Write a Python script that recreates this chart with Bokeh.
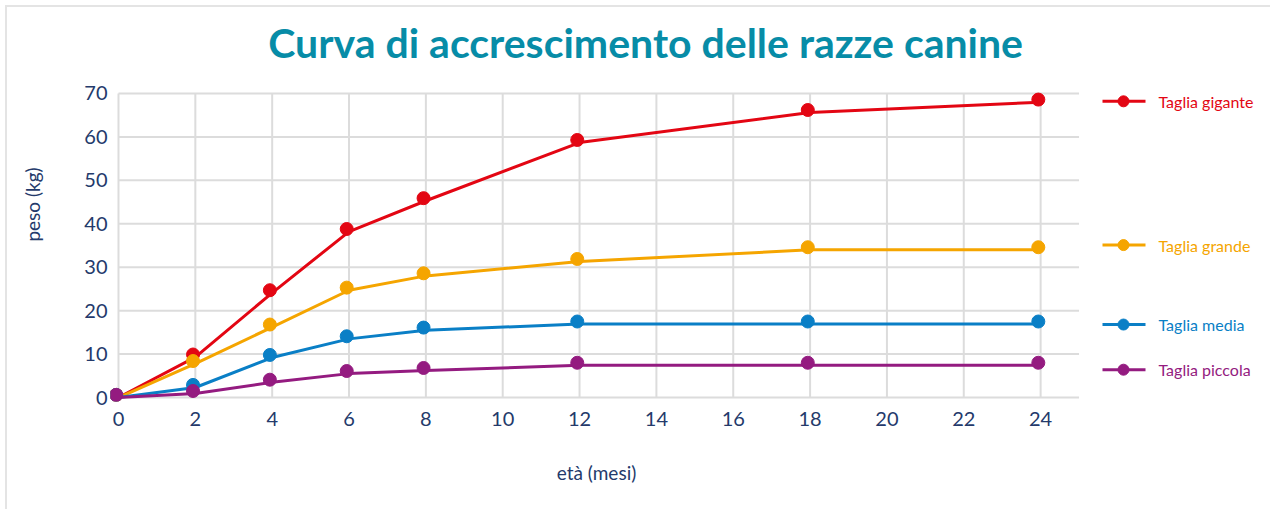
from bokeh.plotting import figure
from bokeh.models import ColumnDataSource, Range1d, FixedTicker
from bokeh.layouts import row
from bokeh.transform import dodge
from bokeh.core.properties import value
from bokeh.embed import file_html
from bokeh.resources import INLINE

# ---- data ----
months = [0, 2, 4, 6, 8, 12, 18, 24]
gigante = [0.0, 9.3, 24.1, 38.2, 45.3, 58.7, 65.6, 68.0]
grande = [0.0, 7.8, 16.2, 24.7, 28.0, 31.3, 34.0, 34.0]
media = [0.0, 2.3, 9.2, 13.5, 15.5, 16.9, 16.9, 16.9]
piccola = [0.0, 0.9, 3.5, 5.5, 6.2, 7.4, 7.4, 7.4]
series_names = ["Taglia gigante", "Taglia grande", "Taglia media", "Taglia piccola"]
x_ticks = [0, 2, 4, 6, 8, 10, 12, 14, 16, 18, 20, 22, 24]
y_ticks = [0, 10, 20, 30, 40, 50, 60, 70]
title_text = "Curva di accrescimento delle razze canine"
x_label = "età (mesi)"
y_label = "peso (kg)"

# ---- styles / layout ----
colors = ["#e30613", "#f5a500", "#0a7fc6", "#941b80"]
legend_y = [68.2, 35.1, 16.8, 6.4]
title_pos = (13.72, 81.8)      # placement of the title inside the frame
grid_color = "#dcdcdc"
tick_color = "#243a6b"
title_color = "#078ca7"
FONT = "Lato"
SHIFT = 7          # outer box margin + border
H = 502
BOTTOM = 108

yr = Range1d(-0.92, 89.80)
p = figure(width=1082 - SHIFT, height=H, output_backend="svg", toolbar_location=None,
           x_range=Range1d(-0.208, 25.09), y_range=yr,
           min_border_left=110 - SHIFT, min_border_right=0, min_border_top=0,
           min_border_bottom=BOTTOM)
p.outline_line_color = None
p.border_fill_color = "white"
p.xgrid.visible = False
p.ygrid.visible = False

# title drawn inside the (extended) frame
p.text(x=[title_pos[0]], y=[title_pos[1]], text=[title_text],
       text_font=value(FONT), text_font_size="41px", text_font_style="bold",
       text_color=title_color, text_align="center", text_baseline="alphabetic")

# manual grid limited to the data area
x_max_grid = 25
p.segment(x0=x_ticks, x1=x_ticks, y0=[min(y_ticks)] * len(x_ticks),
          y1=[max(y_ticks)] * len(x_ticks), line_color=grid_color, line_width=2)
p.segment(x0=[0] * len(y_ticks), x1=[x_max_grid] * len(y_ticks), y0=y_ticks,
          y1=y_ticks, line_color=grid_color, line_width=2)

# axes
for ax in (p.xaxis[0], p.yaxis[0]):
    ax.axis_line_color = None
    ax.major_tick_line_color = None
    ax.minor_tick_line_color = None
    ax.major_tick_out = 0
    ax.major_tick_in = 0
    ax.minor_tick_out = 0
    ax.minor_tick_in = 0
    ax.major_label_text_font = FONT
    ax.major_label_text_font_size = "20px"
    ax.major_label_text_color = tick_color
    ax.axis_label_text_font = FONT
    ax.axis_label_text_font_size = "19px"
    ax.axis_label_text_font_style = "normal"
    ax.axis_label_text_color = tick_color
p.xaxis.ticker = FixedTicker(ticks=x_ticks)
p.yaxis.ticker = FixedTicker(ticks=y_ticks)
p.xaxis.major_label_standoff = 10
p.yaxis.major_label_standoff = 3
p.xaxis.axis_label = x_label
p.xaxis.axis_label_standoff = 32
p.yaxis.axis_label = y_label
p.yaxis.axis_label_standoff = 37

# series
all_series = [gigante, grande, media, piccola]
for name, vals, col in zip(series_names, all_series, colors):
    src = ColumnDataSource(dict(x=months, y=vals))
    p.line("x", "y", source=src, line_color=col, line_width=3, line_join="round")
    p.scatter(x=dodge("x", -0.06), y=dodge("y", 0.6), source=src, size=13,
              fill_color=col, line_color=col)

# legend panel sharing the y scale
lg = figure(width=188, height=H, output_backend="svg", toolbar_location=None,
            x_range=Range1d(0, 188), y_range=yr, x_axis_type=None,
            y_axis_type=None, min_border_left=0, min_border_right=0,
            min_border_top=0, min_border_bottom=BOTTOM)
lg.outline_line_color = None
lg.border_fill_color = "white"
lx0, lx1, lxm, ltx = 20, 63, 41, 76
for name, ly, col in zip(series_names, legend_y, colors):
    lg.segment(x0=[lx0], x1=[lx1], y0=[ly], y1=[ly], line_color=col, line_width=3)
    lg.scatter(x=[lxm], y=[ly], size=11, fill_color=col, line_color=col)
    lg.text(x=[ltx], y=[ly], text=[name], text_color=col, text_font=value(FONT),
            text_font_size="16px", text_baseline="middle", text_align="left")

layout = row(p, lg)
layout.margin = (5, 0, 0, 5)
layout.styles = {"border-left": "2px solid #e4e4e4", "border-top": "2px solid #e4e4e4"}
open("out.html", "w").write(file_html(layout, INLINE))
